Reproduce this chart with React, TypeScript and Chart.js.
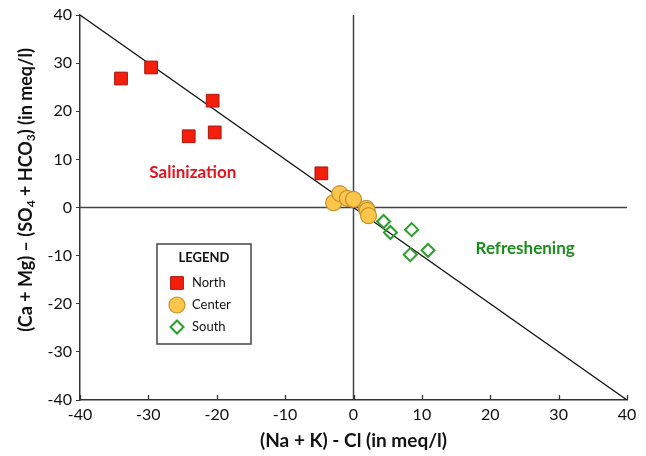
import React, { useEffect, useRef } from 'react';
import { Chart, registerables } from 'chart.js';
Chart.register(...registerables);

// ---- data ----
const northX = [-34.0, -29.6, -20.6, -24.1, -20.3, -4.7];
const northY = [26.8, 29.1, 22.2, 14.8, 15.6, 7.1];
const centerX = [-2.9, -2.0, -0.9, 0.0, 1.9, 2.0, 2.2];
const centerY = [1.0, 2.9, 1.9, 1.7, -0.2, -0.6, -1.7];
const southX = [4.4, 5.4, 8.5, 10.9, 8.3];
const southY = [-2.9, -5.2, -4.6, -8.9, -9.8];
const mixingLineX = [-40, 40];
const mixingLineY = [40, -40];
const axisMin = -40;
const axisMax = 40;
const tickStep = 10;
const seriesNames = ['North', 'Center', 'South'];
const legendTitle = 'LEGEND';
const xTitle = '(Na + K) - Cl (in meq/l)';
const yTitleParts = [
  { t: '(Ca + Mg) – (SO', sub: false },
  { t: '4', sub: true },
  { t: ' + HCO', sub: false },
  { t: '3', sub: true },
  { t: ') (in meq/l)', sub: false },
];
const annotations = [
  { text: 'Salinization', x: -23.5, y: 7.3, color: '#e8121c' },
  { text: 'Refreshening', x: 25.1, y: -8.5, color: '#1c8c1c' },
];

const FONT = 'Lato, "Open Sans", "Liberation Sans", sans-serif';

const zip = (xs: number[], ys: number[]) => xs.map((x, i) => ({ x, y: ys[i] }));

function drawMarker(ctx: CanvasRenderingContext2D, style: string, x: number, y: number, r: number) {
  ctx.beginPath();
  if (style === 'rect') {
    const s = Math.SQRT1_2 * r;
    ctx.rect(x - s, y - s, 2 * s, 2 * s);
  } else if (style === 'rectRot') {
    ctx.moveTo(x, y - r);
    ctx.lineTo(x + r, y);
    ctx.lineTo(x, y + r);
    ctx.lineTo(x - r, y);
    ctx.closePath();
  } else {
    ctx.arc(x, y, r, 0, Math.PI * 2);
  }
  ctx.fill();
  ctx.stroke();
}

const overlayPlugin = {
  id: 'overlay',
  afterDraw(chart: any) {
    const ctx = chart.ctx as CanvasRenderingContext2D;
    const xs = chart.scales.x;
    const ys = chart.scales.y;
    const area = chart.chartArea;
    ctx.save();
    // inward ticks on x axis
    ctx.strokeStyle = '#333';
    ctx.lineWidth = 1.3;
    xs.ticks.forEach((t: any) => {
      const px = Math.round(xs.getPixelForValue(t.value)) + 0.5;
      ctx.beginPath();
      ctx.moveTo(px, area.bottom);
      ctx.lineTo(px, area.bottom - 5);
      ctx.stroke();
    });

    // annotations
    ctx.font = `bold 17px ${FONT}`;
    ctx.textAlign = 'center';
    ctx.textBaseline = 'middle';
    annotations.forEach((a) => {
      ctx.fillStyle = a.color;
      ctx.fillText(a.text, xs.getPixelForValue(a.x), ys.getPixelForValue(a.y));
    });

    // x title
    ctx.fillStyle = '#111';
    ctx.font = `bold 19px ${FONT}`;
    ctx.fillText(xTitle, (area.left + area.right) / 2, 441);

    // y title with subscripts
    ctx.save();
    ctx.translate(26, 190);
    ctx.rotate(-Math.PI / 2);
    const mainFont = `bold 18px ${FONT}`;
    const subFont = `bold 12px ${FONT}`;
    let total = 0;
    yTitleParts.forEach((p) => {
      ctx.font = p.sub ? subFont : mainFont;
      total += ctx.measureText(p.t).width;
    });
    let cx = -total / 2;
    ctx.textAlign = 'left';
    ctx.textBaseline = 'middle';
    yTitleParts.forEach((p) => {
      ctx.font = p.sub ? subFont : mainFont;
      ctx.fillText(p.t, cx, p.sub ? 5 : 0);
      cx += ctx.measureText(p.t).width;
    });
    ctx.restore();

    // legend box
    const bx = area.left + 77;
    const by = area.top + 229;
    const bw = 94;
    const bh = 100;
    ctx.fillStyle = '#fff';
    ctx.fillRect(bx, by, bw, bh);
    ctx.strokeStyle = '#444';
    ctx.lineWidth = 1.5;
    ctx.strokeRect(bx, by, bw, bh);
    ctx.fillStyle = '#111';
    ctx.font = `bold 13px ${FONT}`;
    ctx.textAlign = 'center';
    ctx.fillText(legendTitle, bx + bw / 2, by + 14);
    ctx.font = `13px ${FONT}`;
    ctx.textAlign = 'left';
    const dsIdx = [3, 4, 5];
    seriesNames.forEach((name, i) => {
      const ds = chart.data.datasets[dsIdx[i]];
      const my = by + 39 + i * 22;
      const mx = bx + 20;
      ctx.save();
      ctx.fillStyle = ds.backgroundColor;
      ctx.strokeStyle = ds.borderColor;
      ctx.lineWidth = ds.borderWidth;
      drawMarker(ctx, ds.pointStyle, mx, my, ds.pointRadius);
      ctx.restore();
      ctx.fillStyle = '#111';
      ctx.fillText(name, bx + 35, my);
    });
    ctx.restore();
  },
};

export default function App() {
  const ref = useRef<HTMLCanvasElement | null>(null);
  useEffect(() => {
    if (!ref.current) return;
    const chart = new Chart(ref.current, {
      type: 'scatter',
      data: {
        datasets: [
          {
            label: 'mixing',
            data: zip(mixingLineX, mixingLineY),
            showLine: true,
            borderColor: '#111',
            borderWidth: 1.3,
            pointRadius: 0,
            order: 10,
          } as any,
          {
            label: 'xzero',
            data: [{ x: 0, y: axisMin }, { x: 0, y: axisMax }],
            showLine: true,
            borderColor: '#444',
            borderWidth: 1.5,
            pointRadius: 0,
            order: 11,
          },
          {
            label: 'yzero',
            data: [{ x: axisMin, y: 0 }, { x: axisMax, y: 0 }],
            showLine: true,
            borderColor: '#444',
            borderWidth: 1.5,
            pointRadius: 0,
            order: 11,
          },
          {
            label: seriesNames[0],
            data: zip(northX, northY),
            pointStyle: 'rect',
            pointRadius: 9,
            backgroundColor: '#f41e0c',
            borderColor: '#a8140c',
            borderWidth: 1,
            order: 3,
          },
          {
            label: seriesNames[1],
            data: zip(centerX, centerY),
            pointStyle: 'circle',
            pointRadius: 8,
            backgroundColor: '#fcc64c',
            borderColor: '#c4922c',
            borderWidth: 1.2,
            order: 2,
          },
          {
            label: seriesNames[2],
            data: zip(southX, southY),
            pointStyle: 'rectRot',
            pointRadius: 6.5,
            backgroundColor: 'rgba(255,255,255,0)',
            borderColor: '#26a026',
            borderWidth: 2,
            order: 1,
          },
        ],
      },
      options: {
        animation: false,
        responsive: false,
        devicePixelRatio: 1,
        layout: { padding: { top: 15, right: 19, left: 0, bottom: 0 } },
        plugins: { legend: { display: false }, tooltip: { enabled: false } },
        elements: { line: { tension: 0 } },
        scales: {
          x: {
            type: 'linear',
            min: axisMin,
            max: axisMax,
            afterFit: (s: any) => { s.height = 56; },
            ticks: { stepSize: tickStep, color: '#111', font: { family: FONT, size: 16 }, padding: 5 },
            grid: { drawOnChartArea: false, drawTicks: false },
            border: { display: true, color: '#333', width: 1.5 },
          },
          y: {
            type: 'linear',
            min: axisMin,
            max: axisMax,
            afterFit: (s: any) => { s.width = 80; },
            ticks: { stepSize: tickStep, color: '#111', font: { family: FONT, size: 16 }, padding: 4 },
            grid: { drawOnChartArea: false, drawTicks: true, tickLength: 4, color: '#333' },
            border: { display: true, color: '#333', width: 1.5 },
          },
        },
      },
      plugins: [overlayPlugin],
    });
    return () => chart.destroy();
  }, []);
  return (
    <div style={{ position: 'fixed', left: 0, top: 0, width: 646, height: 456, background: '#fff' }}>
      <canvas ref={ref} width={646} height={456} />
    </div>
  );
}
